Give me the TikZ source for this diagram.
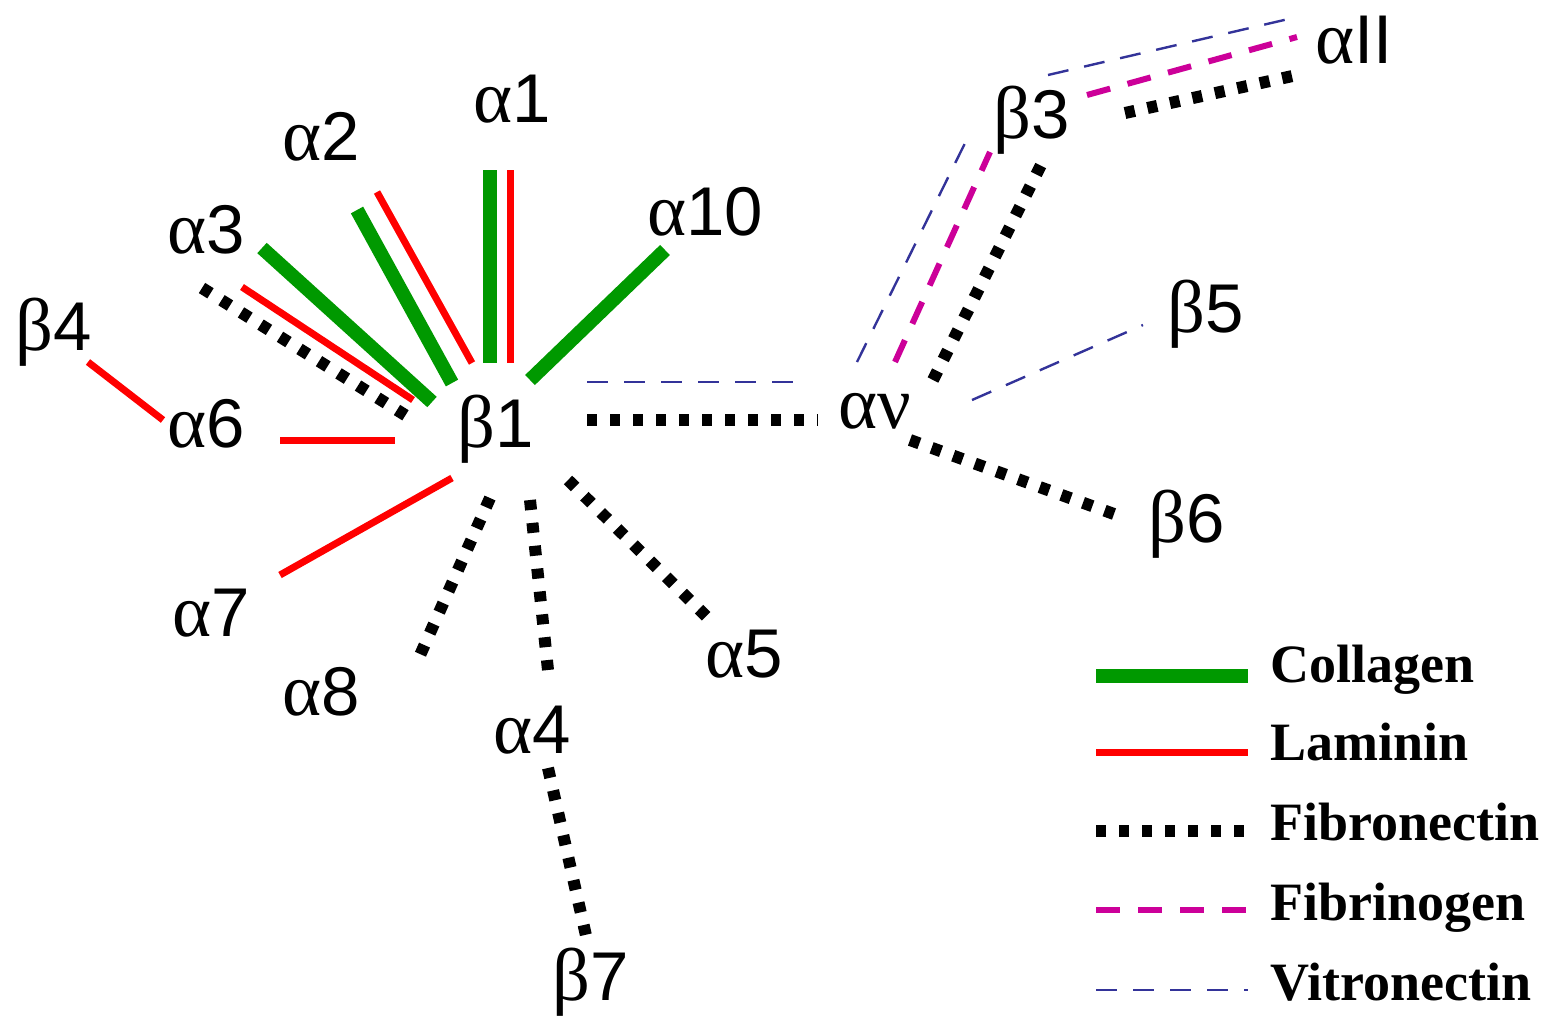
\documentclass[tikz,border=0pt]{standalone}
\usepackage{fontspec}
\setmainfont{Liberation Sans}
\newfontfamily\grk[Scale=1.08]{Liberation Serif}
\newfontfamily\keyfont{Liberation Serif}
\definecolor{colgreen}{HTML}{009900}
\definecolor{lamred}{HTML}{FF0000}
\definecolor{fbgmag}{HTML}{CC0099}
\definecolor{vitblue}{HTML}{333399}
\newcommand{\galpha}{{\grk α}}
\newcommand{\gbeta}{{\grk β}}
\newcommand{\gnu}{{\grk ν}}
\begin{document}
\begin{tikzpicture}[x=0.5pt,y=-0.5pt,
	lab/.style={anchor=base west,inner sep=0pt,font=\fontsize{34.5}{40}\selectfont},
	key/.style={anchor=base west,inner sep=0pt,font=\keyfont\bfseries\fontsize{27}{32}\selectfont},
	collagen/.style={draw=colgreen,line width=7pt},
	laminin/.style={draw=lamred,line width=3.5pt},
	fibronectin/.style={draw=black,line width=6pt,dash pattern=on 5pt off 6.5pt},
	fibrinogen/.style={draw=fbgmag,line width=3pt,dash pattern=on 12pt off 9pt},
	vitronectin/.style={draw=vitblue,line width=1.2pt,dash pattern=on 10.5pt off 8pt}]
	\useasboundingbox (0,0) rectangle (1552,1019);
	
	% subunit labels
	\node[lab] (a1) at (473,122) {\galpha1};
	\node[lab] (a2) at (282,160) {\galpha2};
	\node[lab] (a3) at (167,253) {\galpha3};
	\node[lab] (a10) at (647,235) {\galpha10};
	\node[lab] (b4) at (15,350) {\gbeta4};
	\node[lab] (a6) at (167,447) {\galpha6};
	\node[lab] (b1) at (457,447) {\gbeta1};
	\node[lab] (av) at (838,428) {\galpha\gnu};
	\node[lab] (b3) at (993,138) {\gbeta3};
	\node[lab] (aII) at (1315,63) {\galpha II};
	\node[lab] (b5) at (1167,332) {\gbeta5};
	\node[lab] (b6) at (1148,542) {\gbeta6};
	\node[lab] (a7) at (172,636) {\galpha7};
	\node[lab] (a8) at (282,715) {\galpha8};
	\node[lab] (a5) at (705,677) {\galpha5};
	\node[lab] (a4) at (493,753) {\galpha4};
	\node[lab] (b7) at (552,1000) {\gbeta7};
	
	% beta1 partners
	\draw[collagen] (490,170) -- (490,363);
	\draw[laminin] (510,170) -- (510,363);
	\draw[collagen] (357,210) -- (452,383);
	\draw[laminin] (377,192) -- (472,363);
	\draw[collagen] (262,248) -- (432,402);
	\draw[laminin] (242,287) -- (413,400);
	\draw[fibronectin] (202,288) -- (413,420);
	\draw[laminin] (280,440) -- (395,440);
	\draw[collagen] (530,380) -- (665,250);
	\draw[laminin] (88,362) -- (163,420);
	\draw[laminin] (280,575) -- (452,478);
	\draw[fibronectin] (490,498) -- (417,662);
	\draw[fibronectin] (530,500) -- (548,670);
	\draw[fibronectin] (568,480) -- (715,625);
	\draw[fibronectin] (548,768) -- (587,940);
	\draw[vitronectin] (587,382) -- (798,382);
	\draw[fibronectin] (587,420) -- (818,420);
	
	% alphav partners
	\draw[vitronectin] (857,362) -- (970,133);
	\draw[fibrinogen] (895,362) -- (990,152);
	\draw[fibronectin] (933,380) -- (1045,157);
	\draw[vitronectin] (972,400) -- (1143,325);
	\draw[fibronectin] (910,440) -- (1125,518);
	\draw[vitronectin] (1048,75) -- (1297,17);
	\draw[fibrinogen] (1087,95) -- (1297,37);
	\draw[fibronectin] (1125,113) -- (1297,75);
	
	% legend
	\draw[collagen] (1096,676) -- (1248,676);
	\draw[laminin] (1096,752) -- (1248,752);
	\draw[fibronectin] (1096,831) -- (1248,831);
	\draw[fibrinogen] (1096,910) -- (1248,910);
	\draw[vitronectin] (1096,990) -- (1248,990);
	\node[key] (kcol) at (1270,682) {Collagen};
	\node[key] (klam) at (1270,760) {Laminin};
	\node[key] (kfbn) at (1270,840) {Fibronectin};
	\node[key] (kfbg) at (1270,920) {Fibrinogen};
	\node[key] (kvit) at (1270,1000) {Vitronectin};
\end{tikzpicture}
\end{document}
